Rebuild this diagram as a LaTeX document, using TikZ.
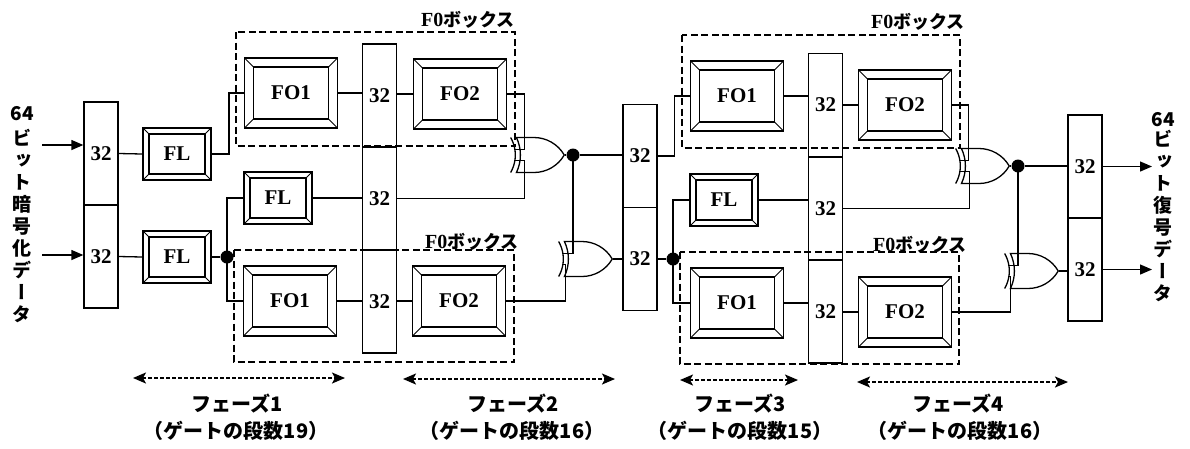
\documentclass[tikz,border=0pt]{standalone}
\usepackage{fontspec}
\usepackage{graphicx}
\setmainfont{Liberation Serif}
\newfontfamily\jp{Noto Sans CJK JP}
\newfontfamily\jpv{Noto Sans CJK JP}[RawFeature={+vert}]
\usetikzlibrary{arrows.meta,shapes.gates.logic.US}

\tikzset{
  wire/.style={line width=1.3pt},
  bevel/.style={draw, line width=1.7pt, fill=white, inner sep=0pt,
    font=\bfseries\fontsize{21}{21}\selectfont,
    path picture={
      \draw[line width=1.2pt] ([shift={(#1,#1)}]path picture bounding box.south west)
        rectangle ([shift={(-#1,-#1)}]path picture bounding box.north east);
      \draw[line width=0.9pt] (path picture bounding box.south west) -- ++(#1,#1);
      \draw[line width=0.9pt] (path picture bounding box.north east) -- ++(-#1,-#1);
      \draw[line width=0.9pt] (path picture bounding box.north west) -- ++(#1,-#1);
      \draw[line width=0.9pt] (path picture bounding box.south east) -- ++(-#1,#1);
    }},
  fobx/.style={bevel=9pt, minimum width=93pt, minimum height=70pt},
  flbx/.style={bevel=6pt, minimum width=68pt, minimum height=52pt},
  reg/.style={draw, line width=1.3pt, minimum width=34pt, minimum height=103pt,
    inner sep=0pt, font=\bfseries\fontsize{21}{21}\selectfont},
  fobox/.style={draw, line width=1.6pt, dash pattern=on 7pt off 3.5pt},
  boxlabel/.style={inner sep=0pt, anchor=east, font=\fontsize{18}{18}\selectfont},
  xorg/.style={xor gate US, draw, line width=1.3pt, logic gate inputs=nn,
    minimum width=27pt, minimum height=35pt, anchor=output},
  dot/.style={circle, fill=black, inner sep=0pt, minimum size=13pt},
  inarrow/.style={wire, -{Triangle[length=12pt,width=10pt]}},
  phase/.style={line width=1.8pt, dash pattern=on 4pt off 2pt,
    {Stealth[length=13pt,width=11pt,inset=3pt]}-{Stealth[length=13pt,width=11pt,inset=3pt]}},
  phtext/.style={inner sep=0pt, font=\jp\bfseries\fontsize{20}{20}\selectfont},
  vtext/.style={inner sep=0pt, align=center, font=\jpv\bfseries\fontsize{19}{22}\selectfont},
  numtext/.style={inner sep=0pt, font=\jp\bfseries\fontsize{19}{19}\selectfont},
}

\newcommand{\fobl}{{\bfseries\fontsize{20}{20}\selectfont F0}{\jp\bfseries ボックス}}

\begin{document}
\begin{tikzpicture}[x=1pt,y=-1pt]
\useasboundingbox (0,0) rectangle (1190,448);

% ---------- dashed FO boxes ----------
\draw[fobox] (236,32) rectangle (515,146);
\draw[fobox] (234,250) rectangle (514,362);
\draw[fobox] (682,35) rectangle (960,148);
\draw[fobox] (680,252) rectangle (959,364);
\node[boxlabel] (lblA) at (515,20) {\fobl};
\node[boxlabel] (lblB) at (519,242) {\fobl};
\node[boxlabel] (lblC) at (965,22) {\fobl};
\node[boxlabel] (lblD) at (967,245) {\fobl};

% ---------- registers ----------
\node[reg] (r0a) at (101,153.5) {32};
\node[reg] (r0b) at (101,256.5) {32};
\node[reg] (r1a) at (379.5,95.5) {32};
\node[reg] (r1b) at (379.5,198.5) {32};
\node[reg] (r1c) at (379.5,301.5) {32};
\node[reg] (r2a) at (640,156) {32};
\node[reg] (r2b) at (640,259) {32};
\node[reg] (r3a) at (825.5,105) {32};
\node[reg] (r3b) at (825.5,208.5) {32};
\node[reg] (r3c) at (825.5,311.5) {32};
\node[reg] (r4a) at (1085,166.5) {32};
\node[reg] (r4b) at (1085,269.5) {32};

% ---------- FL / FO blocks ----------
\node[flbx] (fla) at (177,154) {FL};
\node[flbx] (flb) at (177,257) {FL};
\node[flbx] (flc) at (278,198) {FL};
\node[flbx] (fld) at (724,200) {FL};
\node[fobx] (fo1a) at (291,93) {FO1};
\node[fobx] (fo1b) at (290,301) {FO1};
\node[fobx] (fo2a) at (460,94) {FO2};
\node[fobx] (fo2b) at (459,301) {FO2};
\node[fobx] (fo1c) at (737,96) {FO1};
\node[fobx] (fo1d) at (737,303) {FO1};
\node[fobx] (fo2c) at (905,105) {FO2};
\node[fobx] (fo2d) at (905,312) {FO2};

% ---------- XOR gates ----------
\node[xorg] (x1) at (565,155) {};
\node[xorg] (x2) at (613,259) {};
\node[xorg] (x3) at (1010,166) {};
\node[xorg] (x4) at (1059,271) {};

% ---------- dots ----------
\node[dot] (d1) at (573,155) {};
\node[dot] (d2) at (227,257) {};
\node[dot] (d3) at (673,259) {};
\node[dot] (d4) at (1018,166) {};

% ---------- input / output ----------
\coordinate (inA) at (42,145);
\coordinate (inB) at (42,255);
\coordinate (outA) at (1152,168);
\coordinate (outB) at (1152,272);
\draw[inarrow] (inA) -- (inA -| r0a.west);
\draw[inarrow] (inB) -- (inB -| r0b.west);
\draw[inarrow] (r4a.east) -- (r4a.east -| outA);
\draw[inarrow] (r4b.east) -- (r4b.east -| outB);

% ---------- wires: phase 1 / 2 ----------
\draw[wire] (r0a.east) -- (fla.west);
\draw[wire] (r0b.east) -- (flb.west);
\draw[wire] (fla.east) -- ++(17,0) |- (fo1a.west);
\draw[wire] (flb.east) -- (d2);
\draw[wire] (d2.center) |- (flc.west);
\draw[wire] (d2.center) |- (fo1b.west);
\draw[wire] (fo1a.east) -- (fo1a.east -| r1a.west);
\draw[wire] (r1a.east |- fo2a.west) -- (fo2a.west);
\draw[wire] (flc.east) -- (flc.east -| r1b.west);
\draw[wire] (fo1b.east) -- (fo1b.east -| r1c.west);
\draw[wire] (r1c.east |- fo2b.west) -- (fo2b.west);
\draw[wire] (fo2a.east) -- ++(17,0) |- (x1.input 1);
\draw[wire] (r1b.east) -- ++(127,0) |- (x1.input 2);
\draw[wire] (x1.output) -- (d1);
\draw[wire] (d1) -- (d1 -| r2a.west);
\draw[wire] (d1.center) |- (x2.input 1);
\draw[wire] (fo2b.east) -- ++(59,0) |- (x2.input 2);
\draw[wire] (x2.output) -- (x2.output -| r2b.west);

% ---------- wires: phase 3 / 4 ----------
\draw[wire] (r2a.east) -- ++(17,0) |- (fo1c.west);
\draw[wire] (r2b.east) -- (d3);
\draw[wire] (d3.center) |- (fld.west);
\draw[wire] (d3.center) |- (fo1d.west);
\draw[wire] (fo1c.east) -- (fo1c.east -| r3a.west);
\draw[wire] (r3a.east |- fo2c.west) -- (fo2c.west);
\draw[wire] (fld.east) -- (fld.east -| r3b.west);
\draw[wire] (fo1d.east) -- (fo1d.east -| r3c.west);
\draw[wire] (r3c.east |- fo2d.west) -- (fo2d.west);
\draw[wire] (fo2c.east) -- ++(16,0) |- (x3.input 1);
\draw[wire] (r3b.east) -- ++(126,0) |- (x3.input 2);
\draw[wire] (x3.output) -- (d4);
\draw[wire] (d4) -- (d4 -| r4a.west);
\draw[wire] (d4.center) |- (x4.input 1);
\draw[wire] (fo2d.east) -- ++(58,0) |- (x4.input 2);
\draw[wire] (x4.output) -- (x4.output -| r4b.west);

% ---------- side texts ----------
\node[numtext] (n64l) at (22,114) {64};
\node[vtext, anchor=north] (vtl) at (22,129) {ビ\\ッ\\ト\\暗\\号\\化\\デ\\ー\\タ};
\node[numtext] (n64r) at (1163,120) {64};
\node[vtext, anchor=north] (vtr) at (1163,130) {ビ\\ッ\\ト\\復\\号\\デ\\ー\\タ};

% ---------- phase arrows ----------
\coordinate (p1l) at (133,378); \coordinate (p1r) at (345,378);
\coordinate (p2l) at (403,379); \coordinate (p2r) at (615,379);
\coordinate (p3l) at (680,380); \coordinate (p3r) at (798,380);
\coordinate (p4l) at (857,382); \coordinate (p4r) at (1068,382);
\draw[phase] (p1l) -- (p1r);
\draw[phase] (p2l) -- (p2r);
\draw[phase] (p3l) -- (p3r);
\draw[phase] (p4l) -- (p4r);
\node[phtext] (ph1) at (237,404) {フェーズ1};
\node[phtext] (ph1g) at (236,431) {（ゲートの段数19）};
\node[phtext] (ph2) at (513,404) {フェーズ2};
\node[phtext] (ph2g) at (512,431) {（ゲートの段数16）};
\node[phtext] (ph3) at (740,404) {フェーズ3};
\node[phtext] (ph3g) at (740,431) {（ゲートの段数15）};
\node[phtext] (ph4) at (958,404) {フェーズ4};
\node[phtext] (ph4g) at (960,431) {（ゲートの段数16）};
\end{tikzpicture}
\end{document}
